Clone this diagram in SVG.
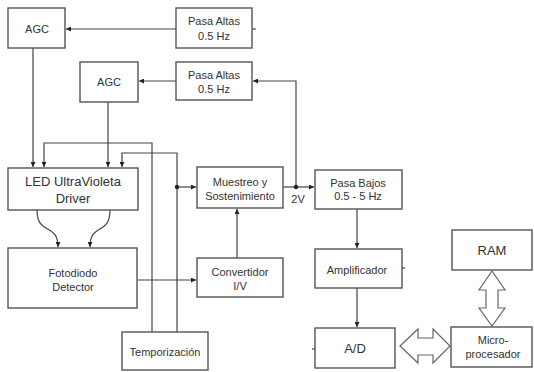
<svg xmlns="http://www.w3.org/2000/svg" width="534" height="372" viewBox="0 0 534 372">
<defs>
<style>
.box{fill:#fff;stroke:#555;stroke-width:1.4}
.t{font-family:"Liberation Sans",Arial,sans-serif;fill:#333;text-anchor:middle;font-size:11px}
.tl{font-size:13px}
.c{fill:none;stroke:#444;stroke-width:1.2}
.h{fill:#fff;stroke:#666;stroke-width:1.2}
</style>
<marker id="a" viewBox="0 0 6 6" refX="6" refY="3" markerWidth="5" markerHeight="5" orient="auto" markerUnits="userSpaceOnUse">
<path d="M0,0 L6,3 L0,6 z" fill="#222"/>
</marker>
</defs>
<rect width="534" height="372" fill="#fff"/>
<g id="connectors">
<path class="c" d="M176,29 L66,29" marker-end="url(#a)"/>
<path class="c" d="M252,29 L256,29"/>
<path class="c" d="M176,81 L139,81" marker-end="url(#a)"/>
<path class="c" d="M296,187 L296,81 L253,81" marker-end="url(#a)"/>
<path class="c" d="M33,48 L33,167" marker-end="url(#a)"/>
<path class="c" d="M152,332 L152,143 L44,143 L44,167" marker-end="url(#a)"/>
<path class="c" d="M108,102 L108,167" marker-end="url(#a)"/>
<path class="c" d="M177,332 L177,153 L122,153 L122,167" marker-end="url(#a)"/>
<path class="c" d="M177,187 L196,187" marker-end="url(#a)"/>
<path class="c" d="M283,187 L314,187" marker-end="url(#a)"/>
<path class="c" d="M357,209 L357,248" marker-end="url(#a)"/>
<path class="c" d="M357,288 L357,327" marker-end="url(#a)"/>
<path class="c" d="M137,280 L196,280" marker-end="url(#a)"/>
<path class="c" d="M237,258 L237,209" marker-end="url(#a)"/>
<path class="c" d="M37,210 C37,236 58,222 58,247" marker-end="url(#a)"/>
<path class="c" d="M110,210 C110,236 90,222 90,247" marker-end="url(#a)"/>
<path class="c" d="M401,268 L405,268"/>
<path class="c" d="M312,349 L315,349"/>
<circle cx="177" cy="187" r="2.2" fill="#222"/>
<circle cx="296" cy="187" r="2.2" fill="#222"/>
<polygon class="h" points="492,271 479,290 486,290 486,308 479,308 492,326 505,308 498,308 498,290 505,290"/>
<polygon class="h" points="400,346 418,329 418,338 433,338 433,329 450,346 433,363 433,355 418,355 418,363"/>
</g>
<g id="agc1"><rect class="box" x="8" y="8" width="57" height="40"/><text class="t" x="37" y="33">AGC</text></g>
<g id="pa1"><rect class="box" x="176" y="8" width="76" height="40"/><text class="t" x="214" y="25">Pasa Altas</text><text class="t" x="214" y="40">0.5 Hz</text></g>
<g id="agc2"><rect class="box" x="80" y="62" width="58" height="40"/><text class="t" x="109" y="86">AGC</text></g>
<g id="pa2"><rect class="box" x="176" y="62" width="76" height="38"/><text class="t" x="214" y="79">Pasa Altas</text><text class="t" x="214" y="93">0.5 Hz</text></g>
<g id="led"><rect class="box" x="8" y="168" width="130" height="42"/><text class="t tl" x="73" y="186">LED UltraVioleta</text><text class="t tl" x="73" y="203">Driver</text></g>
<g id="foto"><rect class="box" x="8" y="248" width="129" height="60"/><text class="t" x="73" y="277">Fotodiodo</text><text class="t" x="73" y="291">Detector</text></g>
<g id="muestreo"><rect class="box" x="197" y="167" width="86" height="41"/><text class="t" x="240" y="186">Muestreo y</text><text class="t" x="240" y="200">Sostenimiento</text></g>
<g id="label2v"><text class="t" x="298" y="203">2V</text></g>
<g id="conv"><rect class="box" x="197" y="258" width="86" height="39"/><text class="t" x="240" y="276">Convertidor</text><text class="t" x="240" y="290">I/V</text></g>
<g id="temp"><rect class="box" x="122" y="332" width="86" height="38"/><text class="t" x="165" y="356">Temporización</text></g>
<g id="pb"><rect class="box" x="315" y="170" width="87" height="39"/><text class="t" x="358" y="187">Pasa Bajos</text><text class="t" x="358" y="200">0.5 - 5 Hz</text></g>
<g id="amp"><rect class="box" x="315" y="249" width="87" height="39"/><text class="t" x="357" y="274">Amplificador</text></g>
<g id="ad"><rect class="box" x="315" y="328" width="80" height="40"/><text class="t tl" x="355" y="353">A/D</text></g>
<g id="ram"><rect class="box" x="452" y="230" width="80" height="40"/><text class="t tl" x="492" y="255">RAM</text></g>
<g id="micro"><rect class="box" x="451" y="327" width="81" height="40"/><text class="t" x="493" y="344">Micro-</text><text class="t" x="493" y="358">procesador</text></g>
</svg>
